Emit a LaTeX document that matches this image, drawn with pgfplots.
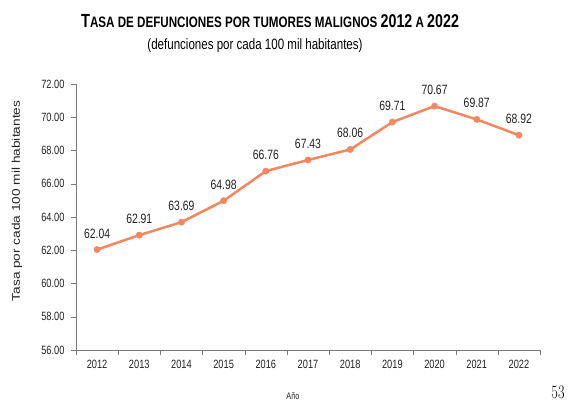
\documentclass[border=0pt]{standalone}
\usepackage{pgfplots}
\pgfplotsset{compat=1.18}
\usepackage{fontspec}
\setmainfont{Liberation Sans}[FakeStretch=0.77]
\newfontfamily\ylabfont{Liberation Sans}[FakeStretch=1.22]
\newfontfamily\lmserif{Latin Modern Roman}[FakeStretch=0.75]
\definecolor{linec}{HTML}{F4875F}
\definecolor{axc}{HTML}{7A7A7A}
\definecolor{txt}{HTML}{222222}
\begin{document}
\begin{tikzpicture}[x=1pt,y=1pt]
\useasboundingbox (0,0) rectangle (569,401);
\begin{axis}[
  at={(76pt,51pt)}, anchor=south west,
  width=464pt, height=266pt, scale only axis,
  xmin=-0.5, xmax=10.5, ymin=56, ymax=72,
  axis x line*=bottom, axis y line*=left,
  axis line style={axc, -},
  ytick={56,58,...,72},
  xtick={0,...,10},
  xticklabels={2012,2013,2014,2015,2016,2017,2018,2019,2020,2021,2022},
  minor xtick={-0.5,0.5,...,10.5},
  major x tick style={draw=none},
  minor x tick style={axc},
  y tick style={axc},
  tick align=outside,
  major tick length=5pt, minor tick length=5pt,
  tick label style={font=\fontsize{12}{14}\selectfont, text=txt},
  xticklabel style={yshift=-2pt},
  yticklabel style={xshift=-3pt, /pgf/number format/.cd, fixed, fixed zerofill, precision=2},
  /pgf/number format/assume math mode=true,
  nodes near coords,
  nodes near coords style={anchor=base, yshift=11.5pt, font=\fontsize{13.5}{15}\selectfont, text=txt,
    /pgf/number format/.cd, fixed, fixed zerofill, precision=2, assume math mode=true},
  clip=false,
]
\addplot[linec, line width=2.5pt, mark=*, mark size=3.2pt, mark options={solid, fill=linec, draw=linec, line width=0.4pt}]
 coordinates {(0,62.04) (1,62.91) (2,63.69) (3,64.98) (4,66.76) (5,67.43) (6,68.06) (7,69.71) (8,70.67) (9,69.87) (10,68.92)};
\end{axis}
\node[font=\bfseries\fontsize{15.1}{18}\selectfont, text=black] at (270,380) {{\fontsize{19}{20}\selectfont T}ASA DE DEFUNCIONES POR TUMORES MALIGNOS {\fontsize{18.5}{20}\selectfont 2012} A {\fontsize{18.5}{20}\selectfont 2022}};
\node[font=\fontsize{15}{17}\selectfont, text=black] at (255,355) {(defunciones por cada 100 mil habitantes)};
\node[font=\ylabfont\fontsize{11.2}{13}\selectfont, text=txt, rotate=90] at (17,200) {Tasa por cada 100 mil habitantes};
\node[font=\fontsize{9.5}{10}\selectfont, text=txt] at (293,5) {Año};
\node[font=\lmserif\fontsize{19}{20}\selectfont] at (558,9) {53};
\end{tikzpicture}
\end{document}
